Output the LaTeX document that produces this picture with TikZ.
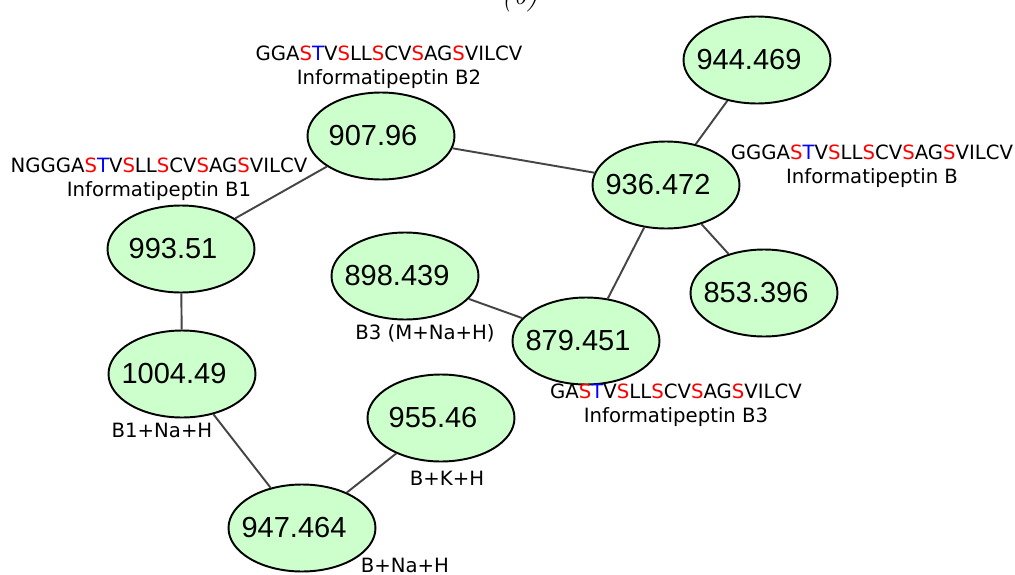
\documentclass[tikz,border=0pt]{standalone}
\usepackage{fontspec}
\setmainfont{DejaVu Sans}
\newfontfamily\capfont{Latin Modern Roman}
\newfontfamily\massfont{Liberation Sans}
\usetikzlibrary{shapes.geometric}
\definecolor{pgreen}{HTML}{CCFFCC}
\definecolor{pedge}{HTML}{454545}
% coloured residues in the sequences
\newcommand{\rS}{\textcolor{red}{S}}
\newcommand{\bT}{\textcolor{blue}{T}}
\tikzset{
  mass/.style={ellipse,draw=black,fill=pgreen,line width=1.1pt,inner sep=0pt,minimum width=2.94cm,minimum height=1.74cm,font=\massfont\fontsize{16.5}{18}\selectfont,
    execute at begin node={\hbox to 0pt\bgroup\hss},execute at end node={\hskip0.32cm\hss\egroup}},
  seq/.style={align=center,font=\fontsize{11.2}{13.5}\selectfont,inner sep=0pt},
  ion/.style={font=\fontsize{11.2}{13.5}\selectfont,inner sep=0pt},
  link/.style={draw=pedge,line width=1.1pt},
}
\begin{document}
\begin{tikzpicture}[x=0.02cm,y=-0.02cm]
  \useasboundingbox (0,0) rectangle (1015,575);
  \node[font=\capfont\itshape\fontsize{17}{20}\selectfont,anchor=base] (cap) at (520,4) {(b)};
  % mass nodes
  \node[mass] (m907) at (381,136) {907.96};
  \node[mass] (m944) at (757,60) {944.469};
  \node[mass] (m936) at (666,185) {936.472};
  \node[mass] (m993) at (181,249) {993.51};
  \node[mass] (m898) at (405,276) {898.439};
  \node[mass] (m853) at (764,293) {853.396};
  \node[mass] (m879) at (586,341) {879.451};
  \node[mass] (m1004) at (182,374) {1004.49};
  \node[mass] (m955) at (441,418) {955.46};
  \node[mass] (m947) at (302,528) {947.464};
  % edges
  \draw[link] (m907) -- (m936);
  \draw[link] (m907) -- (m993);
  \draw[link] (m944) -- (m936);
  \draw[link] (m936) -- (m853);
  \draw[link] (m936) -- (m879);
  \draw[link] (m898) -- (m879);
  \draw[link] (m993) -- (m1004);
  \draw[link] (m1004) -- (m947);
  \draw[link] (m947) -- (m955);
  % peptide labels
  \node[seq] (sB2) at (389,67) {GGA\rS\bT V\rS LL\rS CV\rS AG\rS VILCV\\Informatipeptin B2};
  \node[seq] (sB1) at (159,179) {NGGGA\rS\bT V\rS LL\rS CV\rS AG\rS VILCV\\Informatipeptin B1};
  \node[seq] (sB) at (872,166) {GGGA\rS\bT V\rS LL\rS CV\rS AG\rS VILCV\\Informatipeptin B};
  \node[seq] (sB3) at (676,405) {GA\rS\bT V\rS LL\rS CV\rS AG\rS VILCV\\Informatipeptin B3};
  % adduct labels
  \node[ion] (iB3) at (425,333) {B3 (M+Na+H)};
  \node[ion] (iB1) at (162,430) {B1+Na+H};
  \node[ion] (iK) at (447,478) {B+K+H};
  \node[ion] (iNa) at (405,565) {B+Na+H};
\end{tikzpicture}
\end{document}
